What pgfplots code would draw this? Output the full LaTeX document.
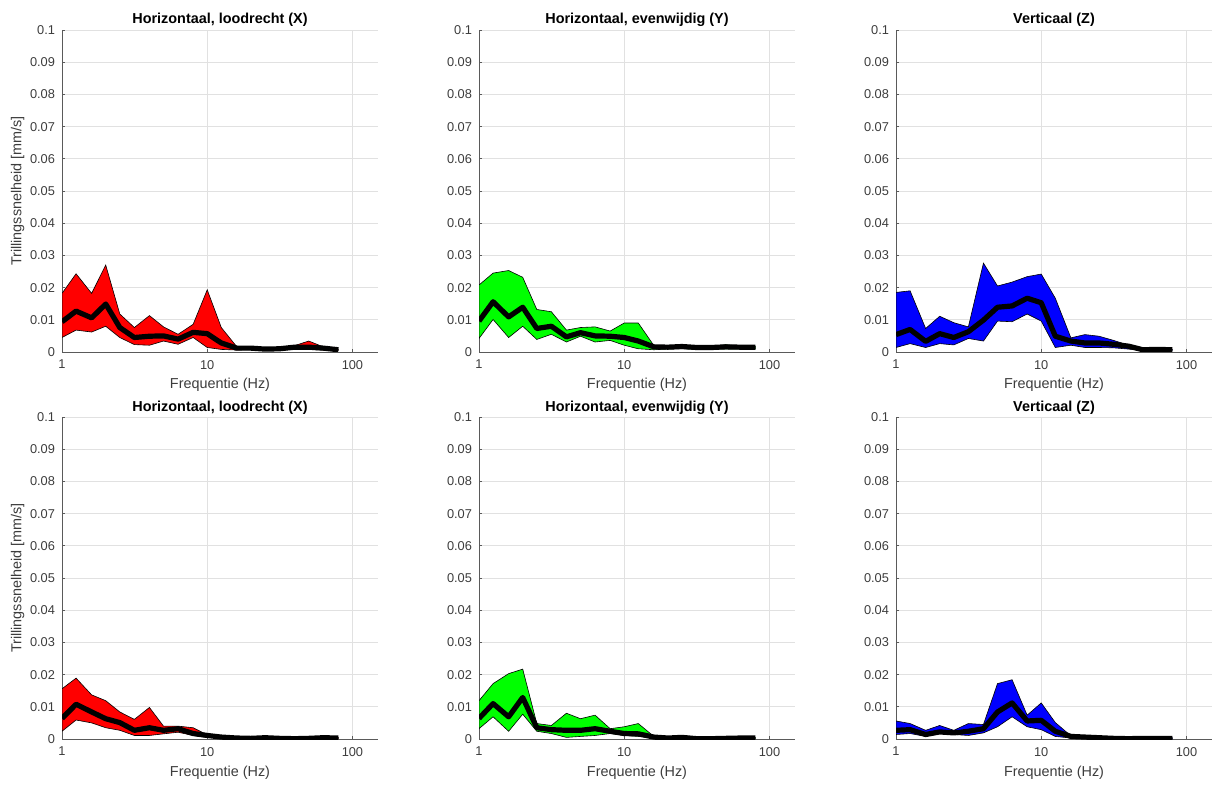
\documentclass[border=0pt]{standalone}
\usepackage{fontspec}
\setmainfont{Liberation Sans}
\usepackage{pgfplots}
\usepackage{pgfplotstable}
\pgfplotsset{compat=1.18}

\definecolor{axgray}{RGB}{90,90,90}
\definecolor{tickgray}{RGB}{60,60,60}
\definecolor{gridgray}{RGB}{225,225,225}

% f = frequency (Hz), lo/hi = band, mean = thick line
\pgfplotstableread{
f lo hi mean
1 0.0045 0.0182 0.0094
1.25 0.0068 0.0243 0.0127
1.6 0.0062 0.0182 0.0106
2 0.0080 0.0270 0.0149
2.5 0.0045 0.0118 0.0076
3.15 0.0023 0.0076 0.0045
4 0.0021 0.0113 0.0049
5 0.0034 0.0078 0.0050
6.3 0.0024 0.0055 0.0040
8 0.0045 0.0086 0.0061
10 0.0014 0.0193 0.0057
12.5 0.0008 0.0076 0.0028
16 0.0006 0.0016 0.0012
20 0.0007 0.0014 0.0012
25 0.0005 0.0011 0.0009
31.5 0.0006 0.0014 0.0010
40 0.0008 0.0020 0.0015
50 0.0008 0.0034 0.0015
63 0.0006 0.0016 0.0012
80 0.0005 0.0008 0.0007
}\tabA

\pgfplotstableread{
f lo hi mean
1 0.0042 0.0208 0.0096
1.25 0.0101 0.0245 0.0156
1.6 0.0045 0.0253 0.0109
2 0.0080 0.0232 0.0139
2.5 0.0039 0.0132 0.0073
3.15 0.0055 0.0125 0.0080
4 0.0031 0.0068 0.0047
5 0.0049 0.0076 0.0060
6.3 0.0031 0.0078 0.0050
8 0.0036 0.0065 0.0049
10 0.0021 0.0090 0.0045
12.5 0.0010 0.0090 0.0034
16 0.0007 0.0020 0.0016
20 0.0009 0.0016 0.0015
25 0.0010 0.0018 0.0017
31.5 0.0008 0.0015 0.0014
40 0.0009 0.0016 0.0014
50 0.0009 0.0023 0.0016
63 0.0009 0.0018 0.0015
80 0.0009 0.0018 0.0015
}\tabB

\pgfplotstableread{
f lo hi mean
1 0.0014 0.0185 0.0054
1.25 0.0026 0.0190 0.0070
1.6 0.0014 0.0073 0.0033
2 0.0026 0.0111 0.0057
2.5 0.0022 0.0091 0.0045
3.15 0.0042 0.0078 0.0063
4 0.0034 0.0276 0.0099
5 0.0096 0.0205 0.0139
6.3 0.0094 0.0217 0.0143
8 0.0118 0.0234 0.0167
10 0.0096 0.0242 0.0153
12.5 0.0014 0.0167 0.0049
16 0.0021 0.0044 0.0034
20 0.0014 0.0054 0.0028
25 0.0014 0.0049 0.0028
31.5 0.0013 0.0036 0.0024
40 0.0009 0.0021 0.0018
50 0.0005 0.0008 0.0007
63 0.0006 0.0010 0.0008
80 0.0005 0.0008 0.0007
}\tabC

\pgfplotstableread{
f lo hi mean
1 0.0024 0.0156 0.0064
1.25 0.0059 0.0189 0.0108
1.6 0.0050 0.0137 0.0084
2 0.0035 0.0119 0.0063
2.5 0.0027 0.0084 0.0051
3.15 0.0011 0.0061 0.0027
4 0.0011 0.0098 0.0035
5 0.0016 0.0040 0.0027
6.3 0.0021 0.0040 0.0032
8 0.0011 0.0035 0.0017
10 0.0005 0.0013 0.0011
12.5 0.0003 0.0008 0.0006
16 0.0002 0.0005 0.0003
20 0.0001 0.0004 0.0002
25 0.0002 0.0006 0.0004
31.5 0.0001 0.0004 0.0002
40 0.0000 0.0003 0.0001
50 0.0001 0.0004 0.0002
63 0.0002 0.0006 0.0004
80 0.0001 0.0005 0.0003
}\tabD

\pgfplotstableread{
f lo hi mean
1 0.0032 0.0119 0.0064
1.25 0.0069 0.0172 0.0110
1.6 0.0024 0.0203 0.0069
2 0.0077 0.0217 0.0129
2.5 0.0024 0.0048 0.0035
3.15 0.0017 0.0042 0.0029
4 0.0005 0.0080 0.0027
5 0.0008 0.0063 0.0027
6.3 0.0011 0.0074 0.0032
8 0.0017 0.0032 0.0024
10 0.0011 0.0038 0.0017
12.5 0.0008 0.0048 0.0016
16 0.0003 0.0008 0.0006
20 0.0001 0.0005 0.0003
25 0.0002 0.0007 0.0005
31.5 0.0000 0.0003 0.0001
40 0.0000 0.0003 0.0001
50 0.0001 0.0004 0.0002
63 0.0001 0.0005 0.0003
80 0.0001 0.0005 0.0003
}\tabE

\pgfplotstableread{
f lo hi mean
1 0.0014 0.0056 0.0027
1.25 0.0017 0.0048 0.0029
1.6 0.0008 0.0027 0.0014
2 0.0017 0.0042 0.0022
2.5 0.0014 0.0027 0.0019
3.15 0.0011 0.0048 0.0024
4 0.0019 0.0045 0.0032
5 0.0038 0.0172 0.0084
6.3 0.0069 0.0184 0.0112
8 0.0038 0.0074 0.0056
10 0.0029 0.0112 0.0058
12.5 0.0008 0.0051 0.0024
16 0.0003 0.0010 0.0008
20 0.0002 0.0007 0.0006
25 0.0001 0.0006 0.0004
31.5 0.0000 0.0004 0.0002
40 0.0000 0.0002 0.0001
50 0.0000 0.0004 0.0002
63 0.0000 0.0004 0.0002
80 0.0000 0.0004 0.0002
}\tabF

\pgfplotsset{
  every axis title shift=0pt,
  every axis/.append style={
    scale only axis, width=158pt, height=161pt,
    xmin=1, xmax=150, ymin=0, ymax=0.1,
    axis x line*=bottom, axis y line*=left,
    axis line style={-, axgray, line width=0.35pt},
    xtick={1,10,100}, xticklabels={1,10,100}, xminorticks=false,
    ytick={0,0.01,0.02,0.03,0.04,0.05,0.06,0.07,0.08,0.09,0.1},
    yticklabels={0,0.01,0.02,0.03,0.04,0.05,0.06,0.07,0.08,0.09,0.1},
    tick align=inside, major tick length=1.6pt,
    tick style={axgray, line width=0.35pt},
    xmajorgrids, ymajorgrids,
    major grid style={gridgray, line width=0.35pt},
    ticklabel style={font=\fontsize{6.4}{7}\selectfont, text=tickgray},
    xticklabel style={yshift=-0.5pt},
    xlabel={Frequentie (Hz)},
    xlabel style={font=\fontsize{7.2}{8}\selectfont, text=tickgray,
      at={(axis description cs:0.5,0)}, anchor=base, yshift=-18.5pt},
    ylabel style={font=\fontsize{7.2}{8}\selectfont, text=tickgray,
      at={(axis description cs:-0.14,0.5)}, anchor=center},
    title style={font=\bfseries\fontsize{7.2}{8}\selectfont,
      at={(axis description cs:0.5,1)}, anchor=base, yshift=3pt},
  },
}

% band: lo stacked, then (hi - lo) filled down to it; mean on top
\newcommand\bandplot[2]{%
  \addplot[draw=none, stack plots=y, forget plot] table[x=f, y=lo] {#1};
  \addplot[draw=black, line width=0.3pt, fill=#2, stack plots=y]
    table[x=f, y expr=\thisrow{hi}-\thisrow{lo}] {#1} \closedcycle;
  \addplot[stack plots=false, black, line width=2.6pt, line join=round]
    table[x=f, y=mean] {#1};
}

\begin{document}
\begin{tikzpicture}
\useasboundingbox (0,0) rectangle (607pt,-392.5pt);

\begin{semilogxaxis}[anchor=south west, at={(31pt,-176pt)}, title={Horizontaal, loodrecht (X)},
  ylabel={Trillingssnelheid [mm/s]}]
\bandplot{\tabA}{red}
\end{semilogxaxis}

\begin{semilogxaxis}[anchor=south west, at={(239.5pt,-176pt)}, title={Horizontaal, evenwijdig (Y)}]
\bandplot{\tabB}{green}
\end{semilogxaxis}

\begin{semilogxaxis}[anchor=south west, at={(448pt,-176pt)}, title={Verticaal (Z)}]
\bandplot{\tabC}{blue}
\end{semilogxaxis}

\begin{semilogxaxis}[anchor=south west, at={(31pt,-369.5pt)}, title={Horizontaal, loodrecht (X)},
  ylabel={Trillingssnelheid [mm/s]}]
\bandplot{\tabD}{red}
\end{semilogxaxis}

\begin{semilogxaxis}[anchor=south west, at={(239.5pt,-369.5pt)}, title={Horizontaal, evenwijdig (Y)}]
\bandplot{\tabE}{green}
\end{semilogxaxis}

\begin{semilogxaxis}[anchor=south west, at={(448pt,-369.5pt)}, title={Verticaal (Z)}]
\bandplot{\tabF}{blue}
\end{semilogxaxis}
\end{tikzpicture}
\end{document}
